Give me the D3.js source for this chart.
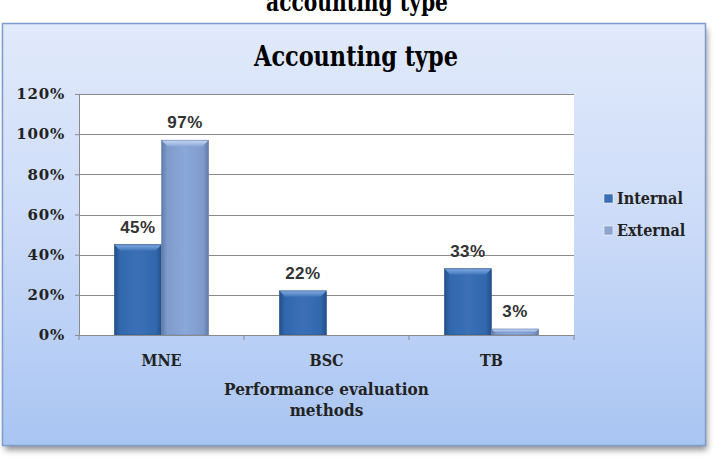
<!DOCTYPE html>
<html>
<head>
<meta charset="utf-8">
<script src="https://cdn.jsdelivr.net/npm/d3@7"></script>
<style>
  body { margin: 0; background: #fff; }
  svg { display: block; }
</style>
</head>
<body>
<div id="chart"></div>
<script>
const categories = ["MNE", "BSC", "TB"];
const seriesNames = ["Internal", "External"];
const internalValues = [45, 22, 33];
const externalValues = [97, null, 3];
const yTicks = [0, 20, 40, 60, 80, 100, 120];

const width = 714, height = 462;
const svg = d3.select("#chart").append("svg")
    .attr("width", width).attr("height", height);

const defs = svg.append("defs");
const serif = "DejaVu Serif Condensed, DejaVu Serif";

// fond du cadre
const bg = defs.append("linearGradient").attr("id", "bg").attr("x1", 0).attr("y1", 0).attr("x2", 0).attr("y2", 1);
bg.append("stop").attr("offset", "0%").attr("stop-color", "#e1eafb");
bg.append("stop").attr("offset", "45%").attr("stop-color", "#cddcf8");
bg.append("stop").attr("offset", "100%").attr("stop-color", "#a9c5f3");

const shadow = defs.append("filter").attr("id", "shadow").attr("x", "-5%").attr("y", "-5%").attr("width", "110%").attr("height", "120%");
shadow.append("feGaussianBlur").attr("stdDeviation", 3);

// dégradés des barres
function barGradient(id, light, mid, dark) {
    const g = defs.append("linearGradient").attr("id", id).attr("x1", 0).attr("y1", 0).attr("x2", 1).attr("y2", 0);
    g.append("stop").attr("offset", "0%").attr("stop-color", dark);
    g.append("stop").attr("offset", "12%").attr("stop-color", mid);
    g.append("stop").attr("offset", "50%").attr("stop-color", light);
    g.append("stop").attr("offset", "88%").attr("stop-color", mid);
    g.append("stop").attr("offset", "100%").attr("stop-color", dark);
}
barGradient("gInternal", "#3b70b6", "#3168ad", "#234f8a");
barGradient("gExternal", "#8aa7d9", "#7e9bcc", "#607ba9");
function topGradient(id, c1, c2) {
    const g = defs.append("linearGradient").attr("id", id).attr("x1", 0).attr("y1", 0).attr("x2", 0).attr("y2", 1);
    g.append("stop").attr("offset", "0%").attr("stop-color", c1);
    g.append("stop").attr("offset", "100%").attr("stop-color", c2);
}
topGradient("tInternal", "#7fa8e0", "#3f74b8");
topGradient("tExternal", "#c3d4f1", "#8ea9d8");
const colors = { Internal: "url(#gInternal)", External: "url(#gExternal)" };
const topColors = { Internal: "url(#tInternal)", External: "url(#tExternal)" };
const legendColors = { Internal: "#3a6fb5", External: "#8ea5cf" };

// titre de la figure (coupé en haut)
svg.append("text").attr("x", 357).attr("y", 11)
    .attr("text-anchor", "middle")
    .attr("font-family", serif)
    .attr("font-weight", "bold").attr("font-size", 26)
    .attr("textLength", 182).attr("lengthAdjust", "spacingAndGlyphs")
    .text("accounting type");

// cadre
svg.append("rect").attr("x", 5).attr("y", 29).attr("width", 702).attr("height", 421)
    .attr("fill", "#444").attr("opacity", 0.6).attr("filter", "url(#shadow)");
svg.append("rect").attr("x", 2.5).attr("y", 23.5).attr("width", 703).attr("height", 422)
    .attr("fill", "url(#bg)").attr("stroke", "#7e9ccd").attr("stroke-width", 1.5);

svg.append("text").attr("x", 356).attr("y", 66)
    .attr("text-anchor", "middle")
    .attr("font-family", serif)
    .attr("font-weight", "bold").attr("font-size", 28)
    .attr("textLength", 204).attr("lengthAdjust", "spacingAndGlyphs")
    .text("Accounting type");

// zone du graphique
const plot = { left: 79, right: 574, top: 94, bottom: 335 };
const x = d3.scaleBand().domain(categories).range([plot.left, plot.right]);
const xs = d3.scaleBand().domain(seriesNames).range([0, x.bandwidth()]).paddingOuter(0.75);
const y = d3.scaleLinear().domain([0, 120]).range([plot.bottom, plot.top]);

svg.append("rect").attr("x", plot.left).attr("y", plot.top)
    .attr("width", plot.right - plot.left).attr("height", plot.bottom - plot.top)
    .attr("fill", "#fff");

// grille
svg.append("g").selectAll("line").data(yTicks.filter(t => t > 0)).join("line")
    .attr("x1", plot.left).attr("x2", plot.right)
    .attr("y1", d => Math.round(y(d)) + 0.5).attr("y2", d => Math.round(y(d)) + 0.5)
    .attr("stroke", "#8a8a8a").attr("stroke-width", 1);

// barres
const rows = categories.map((c, i) => ({ cat: c, values: [
    { name: "Internal", value: internalValues[i] },
    { name: "External", value: externalValues[i] }
] }));

const groups = svg.append("g").selectAll("g").data(rows).join("g")
    .attr("transform", d => `translate(${x(d.cat)},0)`);

const bars = groups.selectAll("g").data(d => d.values.filter(v => v.value != null)).join("g");
bars.append("rect")
    .attr("x", d => xs(d.name)).attr("width", xs.bandwidth())
    .attr("y", d => y(d.value)).attr("height", d => y(0) - y(d.value))
    .attr("fill", d => colors[d.name])
    .attr("stroke", d => d.name === "Internal" ? "#2a5488" : "#6c84b0").attr("stroke-width", 0.6);
// biseau du haut
bars.append("path")
    .attr("d", d => {
        const x0 = xs(d.name), x1 = x0 + xs.bandwidth(), y0 = y(d.value);
        const b = Math.min(6, (y(0) - y0) / 2);
        return `M${x0 + 0.5},${y0 + 0.5} L${x1 - 0.5},${y0 + 0.5} L${x1 - b},${y0 + b} L${x0 + b},${y0 + b} Z`;
    })
    .attr("fill", d => topColors[d.name]);

bars.append("text")
    .attr("x", d => xs(d.name) + xs.bandwidth() / 2)
    .attr("y", d => y(d.value) - 12)
    .attr("text-anchor", "middle")
    .attr("font-family", "Liberation Sans, Arial, sans-serif")
    .attr("font-weight", "bold")
    .attr("font-size", 17).attr("letter-spacing", 0.5).attr("fill", "#333")
    .text(d => d.value + "%");

// axes
const xAxis = svg.append("g").attr("transform", `translate(0,${plot.bottom})`)
    .call(d3.axisBottom(x).tickSize(0).tickFormat(""));
xAxis.select(".domain").attr("stroke", "#8a8a8a");
xAxis.selectAll("line.sep").data(d3.range(categories.length + 1)).join("line")
    .attr("class", "sep")
    .attr("x1", i => plot.left + i * x.step()).attr("x2", i => plot.left + i * x.step())
    .attr("y1", 0).attr("y2", 5).attr("stroke", "#8a8a8a");

svg.append("g").selectAll("text").data(categories).join("text")
    .attr("x", d => x(d) + x.bandwidth() / 2).attr("y", 366)
    .attr("text-anchor", "middle")
    .attr("font-family", serif)
    .attr("font-weight", "bold").attr("font-size", 16).attr("fill", "#222")
    .text(d => d);

const yAxis = svg.append("g").attr("transform", `translate(${plot.left},0)`)
    .call(d3.axisLeft(y).tickValues(yTicks).tickSize(4).tickFormat(d => d + "%"));
yAxis.select(".domain").attr("stroke", "#8a8a8a");
yAxis.selectAll(".tick line").attr("stroke", "#8a8a8a");
yAxis.selectAll(".tick text")
    .attr("x", -14)
    .attr("font-family", "DejaVu Serif")
    .attr("font-weight", "bold").attr("font-size", 15)
    .attr("letter-spacing", 0.8).attr("fill", "#222");

// titre de l'axe
const axisTitle = svg.append("text").attr("text-anchor", "middle")
    .attr("font-family", serif)
    .attr("font-weight", "bold").attr("font-size", 17).attr("fill", "#222");
axisTitle.append("tspan").attr("x", (plot.left + plot.right) / 2).attr("y", 395).text("Performance  evaluation");
axisTitle.append("tspan").attr("x", (plot.left + plot.right) / 2).attr("y", 416).text("methods");

// légende
const legend = svg.append("g").selectAll("g").data(seriesNames).join("g")
    .attr("transform", (d, i) => `translate(604,${199 + i * 32})`);
legend.append("rect").attr("x", 0).attr("y", -5).attr("width", 9).attr("height", 9)
    .attr("fill", d => legendColors[d]).attr("stroke", "#fff").attr("stroke-width", 0.5);
legend.append("text").attr("x", 13).attr("y", 5)
    .attr("font-family", serif)
    .attr("font-weight", "bold").attr("font-size", 16).attr("fill", "#222")
    .text(d => d);
</script>
</body>
</html>
